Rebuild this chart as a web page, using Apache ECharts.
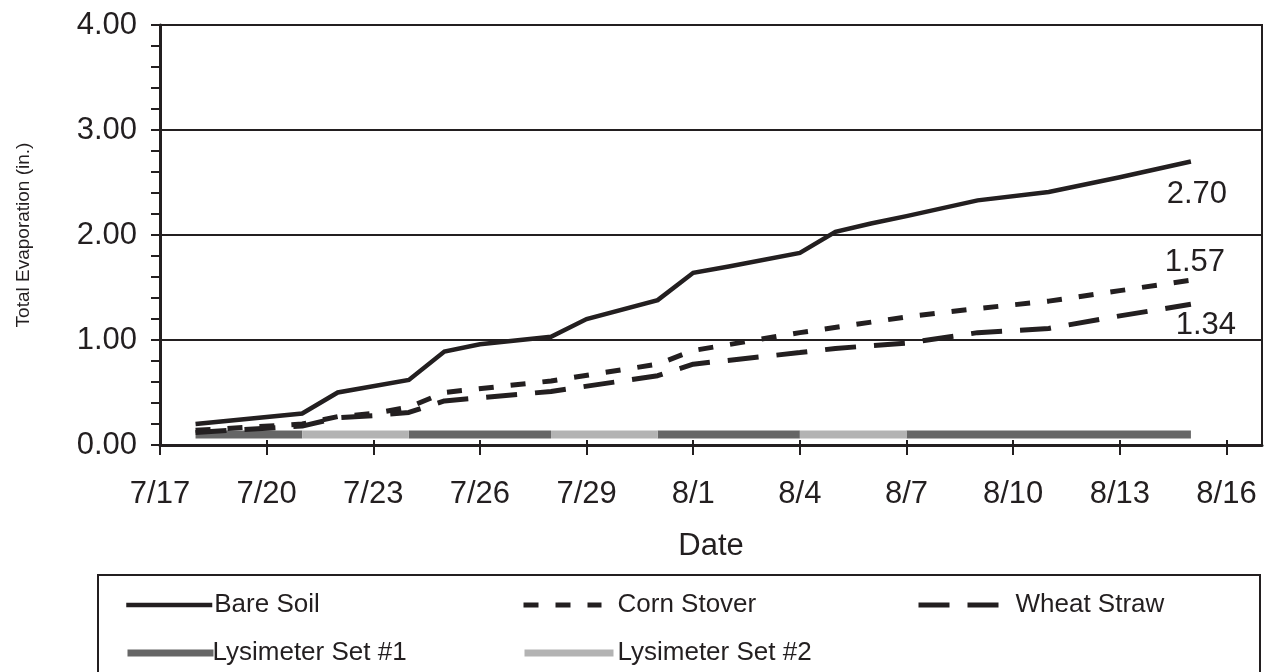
<!DOCTYPE html>
<html>
<head>
<meta charset="utf-8">
<script src="https://cdn.jsdelivr.net/npm/echarts@6/dist/echarts.min.js"></script>
<style>
html,body{margin:0;padding:0;background:#fff;}
#chart{width:1267px;height:672px;}
</style>
</head>
<body>
<div id="chart"></div>
<script>
// ---- data ----
const tickLabels = ['7/17','7/20','7/23','7/26','7/29','8/1','8/4','8/7','8/10','8/13','8/16'];

const bareDates = ['7/18','7/21','7/22','7/24','7/25','7/26','7/28','7/29','7/31','8/1','8/2','8/4','8/5','8/6','8/7','8/9','8/11','8/13','8/15'];
const bareSoil  = [0.20, 0.30, 0.50, 0.62, 0.89, 0.96, 1.03, 1.20, 1.38, 1.64, 1.70, 1.83, 2.03, 2.11, 2.18, 2.33, 2.41, 2.55, 2.70];

const cornDates = ['7/18','7/21','7/22','7/23','7/24','7/25','7/28','7/31','8/1','8/4','8/7','8/9','8/11','8/13','8/15'];
const cornStover = [0.14, 0.20, 0.27, 0.30, 0.36, 0.50, 0.61, 0.77, 0.90, 1.07, 1.22, 1.30, 1.37, 1.47, 1.57];

const wheatDates = ['7/18','7/21','7/22','7/23','7/24','7/25','7/28','7/31','8/1','8/4','8/5','8/7','8/9','8/11','8/13','8/15'];
const wheatStraw = [0.12, 0.18, 0.26, 0.28, 0.31, 0.42, 0.51, 0.66, 0.77, 0.88, 0.92, 0.97, 1.07, 1.11, 1.23, 1.34];

const lysLevel = 0.1;
const lysSet1Periods = [['7/18','7/21'],['7/24','7/28'],['7/31','8/4'],['8/7','8/15']];
const lysSet2Periods = [['7/21','7/24'],['7/28','7/31'],['8/4','8/7']];

const endLabels = ['2.70','1.57','1.34'];

// ---- helpers ----
function dayIndex(s){ const p = s.split('/').map(Number); return p[0] === 7 ? p[1] - 17 : p[1] + 14; }
function pairs(dates, vals){ return dates.map((d,i)=>[dayIndex(d), vals[i]]); }
function periodData(periods){
  const out = [];
  periods.forEach(p => { out.push([dayIndex(p[0]), lysLevel]); out.push([dayIndex(p[1]), lysLevel]); out.push([dayIndex(p[1]), '-']); });
  return out;
}
const INK = '#231f20';
const FONT = 'Liberation Sans, Arial, Helvetica, sans-serif';

function endMark(dates, vals, text, off){
  const last = dates.length - 1;
  return {
    symbol: 'circle', symbolSize: 0, silent: true,
    data: [{ coord: [dayIndex(dates[last]), vals[last]], value: text }],
    label: { show: true, position: 'inside', offset: off, formatter: text, color: INK, fontSize: 31, fontFamily: FONT }
  };
}

const chart = echarts.init(document.getElementById('chart'), null, {renderer: 'canvas'});
const legendText = { color: INK, fontSize: 26, fontFamily: FONT };
function leg(name, left, top, w, pad, lw){
  return { data: [name], left: left, top: top, padding: 0, itemWidth: w, itemHeight: 14, selectedMode: false,
    itemStyle: { opacity: 0 },
    lineStyle: { width: lw, cap: 'butt' },
    textStyle: Object.assign({ padding: [0,0,0,pad] }, legendText) };
}
const option = {
  backgroundColor: '#fff',
  animation: false,
  grid: { left: 160, right: 5, top: 25, bottom: 227, show: true, borderColor: INK, borderWidth: 2, backgroundColor: 'transparent' },
  xAxis: [{
    type: 'value', min: 0, max: 31, interval: 3,
    name: 'Date', nameLocation: 'middle', nameGap: 86,
    nameTextStyle: { color: INK, fontSize: 31, fontFamily: FONT },
    axisLine: { show: true, lineStyle: { color: INK, width: 3 } },
    axisTick: { show: true, length: 10, lineStyle: { color: INK, width: 2 } },
    axisLabel: { margin: 34, color: INK, fontSize: 31, fontFamily: FONT, showMaxLabel: false,
      formatter: v => (v % 3 === 0 ? tickLabels[v/3] : '') },
    splitLine: { show: false }
  },{
    type: 'value', min: 0, max: 31, interval: 3, position: 'bottom',
    axisLine: { show: false },
    axisTick: { show: true, inside: true, length: 5, lineStyle: { color: INK, width: 2 } },
    axisLabel: { show: false }, splitLine: { show: false }
  }],
  yAxis: [{
    type: 'value', min: 0, max: 4, interval: 1,
    name: 'Total Evaporation (in.)', nameLocation: 'middle', nameGap: 127,
    nameTextStyle: { color: INK, fontSize: 19, fontFamily: FONT },
    axisLine: { show: true, lineStyle: { color: INK, width: 3 } },
    axisTick: { show: true, length: 9, lineStyle: { color: INK, width: 2 } },
    minorTick: { show: true, splitNumber: 5, length: 9, lineStyle: { color: INK, width: 2 } },
    axisLabel: { margin: 23, color: INK, fontSize: 31, fontFamily: FONT, formatter: v => v.toFixed(2) },
    splitLine: { show: true, lineStyle: { color: INK, width: 2 } }
  },{
    type: 'value', min: 0, max: 4, interval: 1, position: 'left',
    axisLine: { show: false },
    axisTick: { show: true, inside: true, length: 5, lineStyle: { color: INK, width: 2 } },
    minorTick: { show: false },
    axisLabel: { show: false }, splitLine: { show: false }
  }],
  legend: [
    leg('Bare Soil', 124, 592, 86, -3, 4.5),
    leg('Corn Stover', 521, 592, 78, 11, 5),
    leg('Wheat Straw', 916, 592, 80, 12, 5),
    leg('Lysimeter Set #1', 124, 640, 86, -6, 7),
    leg('Lysimeter Set #2', 521, 640, 89, -1, 7)
  ],
  graphic: [{
    type: 'rect', shape: { x: 98, y: 575, width: 1162, height: 130 },
    style: { fill: 'none', stroke: INK, lineWidth: 2 }, silent: true
  }],
  series: [
    { name: 'Lysimeter Set #1', type: 'line', data: periodData(lysSet1Periods), symbol: 'none', connectNulls: false,
      itemStyle: { color: '#666666' }, lineStyle: { color: '#666666', width: 8, cap: 'butt' }, z: 2 },
    { name: 'Lysimeter Set #2', type: 'line', data: periodData(lysSet2Periods), symbol: 'none', connectNulls: false,
      itemStyle: { color: '#b3b3b3' }, lineStyle: { color: '#b3b3b3', width: 8, cap: 'butt' }, z: 2 },
    { name: 'Bare Soil', type: 'line', data: pairs(bareDates, bareSoil), symbol: 'none',
      itemStyle: { color: INK }, lineStyle: { color: INK, width: 4.5, cap: 'butt', join: 'miter' }, z: 3,
      markPoint: endMark(bareDates, bareSoil, endLabels[0], [6, 33]) },
    { name: 'Corn Stover', type: 'line', data: pairs(cornDates, cornStover), symbol: 'none',
      itemStyle: { color: INK }, lineStyle: { color: INK, width: 5, type: [15, 17], cap: 'butt' }, z: 3,
      markPoint: endMark(cornDates, cornStover, endLabels[1], [4, -18]) },
    { name: 'Wheat Straw', type: 'line', data: pairs(wheatDates, wheatStraw), symbol: 'none',
      itemStyle: { color: INK }, lineStyle: { color: INK, width: 5, type: [31, 18], cap: 'butt' }, z: 3,
      markPoint: endMark(wheatDates, wheatStraw, endLabels[2], [15, 21]) }
  ]
};
chart.setOption(option);
</script>
</body>
</html>
